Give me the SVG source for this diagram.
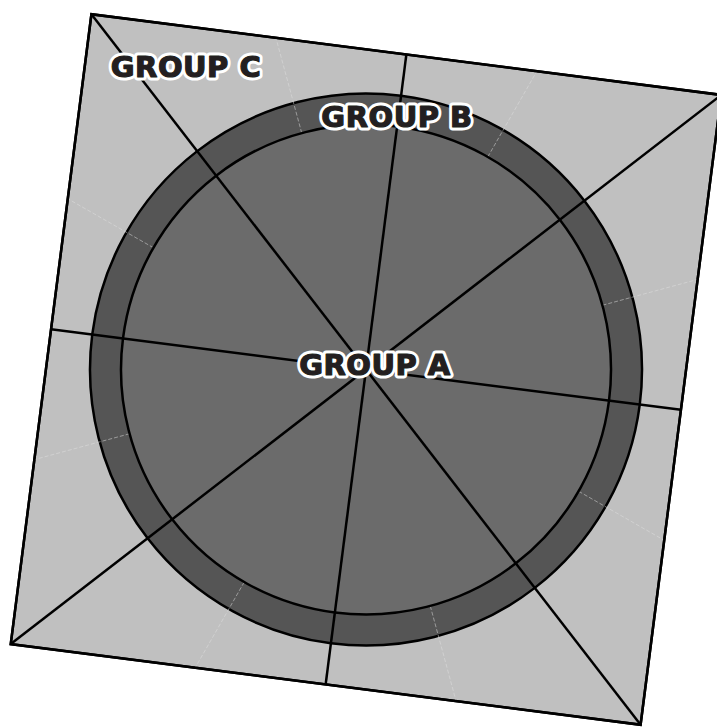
<svg xmlns="http://www.w3.org/2000/svg" width="717" height="727" viewBox="0 0 717 727">
<style>
.sq{fill:#c0c0c0;stroke:#000;stroke-width:2.5}
.ring{fill:#555555;stroke:#000;stroke-width:2.5}
.inner{fill:#6b6b6b;stroke:#000;stroke-width:2.5}
.faint{stroke:#e0e0e0;stroke-width:0.8;stroke-dasharray:4 2;fill:none;opacity:0.6}
.conn line{stroke:#000;stroke-width:2.5}
.lbl{font-family:"DejaVu Sans","Liberation Sans",sans-serif;font-weight:bold;font-size:29px;text-anchor:middle;letter-spacing:0.5px}
.halo{fill:#fff;stroke:#fff;stroke-width:7;stroke-linejoin:round}
.txt{fill:#231f20;stroke:#231f20;stroke-width:1.2;stroke-linejoin:round}
</style>
<rect width="717" height="727" fill="#fff"/>
<g transform="translate(366,369.5) rotate(7.3)">
  <g id="group-c">
    <rect class="sq" x="-317.5" y="-317.5" width="635" height="635"/>
  </g>
  <g id="group-b">
    <circle class="ring" cx="0" cy="0" r="276"/>
  </g>
  <g id="faint-lines" class="faint">
    <line x1="226.4" y1="93.8" x2="317.5" y2="131.5"/>
    <line x1="93.8" y1="226.4" x2="131.5" y2="317.5"/>
    <line x1="-93.8" y1="226.4" x2="-131.5" y2="317.5"/>
    <line x1="-226.4" y1="93.8" x2="-317.5" y2="131.5"/>
    <line x1="-226.4" y1="-93.8" x2="-317.5" y2="-131.5"/>
    <line x1="-93.8" y1="-226.4" x2="-131.5" y2="-317.5"/>
    <line x1="93.8" y1="-226.4" x2="131.5" y2="-317.5"/>
    <line x1="226.4" y1="-93.8" x2="317.5" y2="-131.5"/>
  </g>
  <g id="group-a">
    <circle class="inner" cx="0" cy="0" r="245"/>
  </g>
  <g id="connectors" class="conn">
    <line x1="-317.5" y1="-317.5" x2="317.5" y2="317.5"/>
    <line x1="317.5" y1="-317.5" x2="-317.5" y2="317.5"/>
    <line x1="0" y1="-317.5" x2="0" y2="317.5"/>
    <line x1="-317.5" y1="0" x2="317.5" y2="0"/>
  </g>
  <rect x="-317.5" y="-317.5" width="635" height="635" fill="none" stroke="#000" stroke-width="2.5"/>
</g>
<g id="labels" class="lbl">
  <g class="halo">
    <text x="375" y="375">GROUP A</text>
    <text x="397" y="127">GROUP B</text>
    <text x="186" y="77">GROUP C</text>
  </g>
  <g class="txt">
    <text x="375" y="375">GROUP A</text>
    <text x="397" y="127">GROUP B</text>
    <text x="186" y="77">GROUP C</text>
  </g>
</g>
</svg>
